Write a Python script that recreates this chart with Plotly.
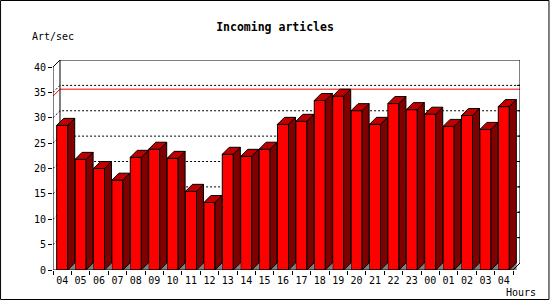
import plotly.graph_objects as go

# ---- data ----
hours = ["04", "05", "06", "07", "08", "09", "10", "11", "12", "13", "14", "15", "16",
         "17", "18", "19", "20", "21", "22", "23", "00", "01", "02", "03", "04"]
rate = [28.5, 21.8, 20.0, 17.7, 22.2, 23.8, 22.0, 15.5, 13.3, 22.8, 22.4, 23.8, 28.7,
        29.3, 33.4, 34.25, 31.4, 28.7, 32.8, 31.6, 30.7, 28.3, 30.45, 27.7, 32.2]
y_ticks = [0, 5, 10, 15, 20, 25, 30, 35, 40]
title_text = "Incoming articles"
y_label = "Art/sec"
x_label = "Hours"

# ---- geometry / style ----
W, H = 550, 300
ml, mr, mt, mb = 53, 29.5, 60, 30
depth_px = 7
n = len(rate)
y_top = y_ticks[-1]
plot_w = W - ml - mr
plot_h = H - mt - mb
ux = n / (plot_w - depth_px)       # x data units per pixel
uy = y_top / (plot_h - depth_px)   # y data units per pixel
dx = depth_px * ux
dy = depth_px * uy
hw = 0.3                           # half bar width
x0, x1 = -0.5, n - 0.5

FRONT = "#FF0000"
SIDE = "#800000"
TOP = "#C00000"
FLOOR = "#808080"
FONT = "DejaVu Sans Mono"

xs = list(range(n))

side_x, side_y, top_x, top_y, fl_x, fl_y = [], [], [], [], [], []
for i, v in zip(xs, rate):
    side_x += [i + hw, i + hw, i + hw + dx, i + hw + dx, i + hw, None]
    side_y += [0, v, v + dy, dy, 0, None]
    top_x += [i - hw, i + hw, i + hw + dx, i - hw + dx, i - hw, None]
    top_y += [v, v, v + dy, v + dy, v, None]
    fl_x += [i + hw, i + hw + dx, i + hw + dx, i + hw, None]
    fl_y += [0, 0, dy, 0, None]

fig = go.Figure()
fig.add_trace(go.Bar(x=xs, y=rate, width=2 * hw, marker=dict(color=FRONT, line=dict(color="black", width=1)),
                     hoverinfo="skip"))
fig.add_trace(go.Scatter(x=fl_x, y=fl_y, mode="lines", fill="toself", fillcolor=FLOOR,
                         line=dict(color=FLOOR, width=0.5), hoverinfo="skip"))
fig.add_trace(go.Scatter(x=side_x, y=side_y, mode="lines", fill="toself", fillcolor=SIDE,
                         line=dict(color="black", width=1), hoverinfo="skip"))
fig.add_trace(go.Scatter(x=top_x, y=top_y, mode="lines", fill="toself", fillcolor=TOP,
                         line=dict(color="black", width=1), hoverinfo="skip"))

shapes = []
# dotted grid on the back wall (with short diagonal on side wall)
for v in y_ticks[1:-1]:
    shapes.append(dict(type="path", xref="x", yref="y", layer="below",
                       path=f"M {x0},{v} L {x0+dx},{v+dy} L {x1+dx},{v+dy}",
                       line=dict(color="black", width=1, dash="2px,2px")))
    shapes.append(dict(type="line", xref="x", yref="y", layer="below",
                       x0=x1 + dx - 3 * ux, x1=x1 + dx, y0=v + dy, y1=v + dy,
                       line=dict(color="black", width=1)))
# max line
vmax = max(rate)
shapes.append(dict(type="path", xref="x", yref="y", layer="below",
                   path=f"M {x0},{vmax} L {x0+dx},{vmax+dy} L {x1+dx},{vmax+dy}",
                   line=dict(color="#FF0000", width=1)))
# back wall
shapes.append(dict(type="path", xref="x", yref="y", layer="below",
                   path=f"M {x0+dx},{dy} L {x0+dx},{y_top+dy} L {x1+dx},{y_top+dy} L {x1+dx},{dy}",
                   line=dict(color="black", width=1)))
# front frame
shapes.append(dict(type="path", xref="x", yref="y", layer="above",
                   path=f"M {x0+dx},{y_top+dy} L {x0},{y_top} L {x0},0 L {x1},0 L {x1+dx},{dy}",
                   line=dict(color="black", width=1)))
# image border
shapes.append(dict(type="rect", xref="paper", yref="paper", layer="above",
                   x0=(0.5 - ml) / plot_w, x1=(W - 0.5 - ml) / plot_w,
                   y0=(H - mb - (H - 0.5)) / plot_h, y1=(H - mb - 0.5) / plot_h,
                   line=dict(color="black", width=1)))

fig.update_layout(
    width=W, height=H,
    margin=dict(l=ml, r=mr, t=mt, b=mb, pad=0),
    paper_bgcolor="white", plot_bgcolor="white",
    showlegend=False,
    shapes=shapes,
    title=dict(text=f"<b>{title_text}</b>", x=0.5, xref="container", xanchor="center",
               y=1 - 27 / H, yref="container", yanchor="middle",
               font=dict(family=FONT, size=11.5, color="black")),
    annotations=[
        dict(text=y_label, xref="paper", yref="paper", x=(30 - ml) / plot_w, y=(H - mb - 37) / plot_h,
             xanchor="left", yanchor="middle", showarrow=False,
             font=dict(family=FONT, size=10, color="black")),
        dict(text=x_label, xref="paper", yref="paper", x=(504 - ml) / plot_w, y=(H - mb - 292.5) / plot_h,
             xanchor="left", yanchor="middle", showarrow=False,
             font=dict(family=FONT, size=10, color="black")),
    ],
    xaxis=dict(range=[x0, x1 + dx], showgrid=False, zeroline=False, showline=False,
               tickmode="array", tickvals=xs, ticktext=hours,
               ticks="outside", ticklen=1, tickcolor="rgba(0,0,0,0)",
               tickfont=dict(family=FONT, size=10, color="black"),
               minor=dict(tickmode="array", tickvals=[i - 0.5 for i in range(n + 1)],
                          ticks="outside", ticklen=4, tickcolor="black", tickwidth=1, showgrid=False),
               fixedrange=True),
    yaxis=dict(range=[0, y_top + dy], showgrid=False, zeroline=False, showline=False,
               tickmode="array", tickvals=y_ticks, ticks="outside", ticklen=4,
               tickcolor="black", tickwidth=1,
               tickfont=dict(family=FONT, size=10, color="black"), fixedrange=True),
)

fig.write_html("out.html")
